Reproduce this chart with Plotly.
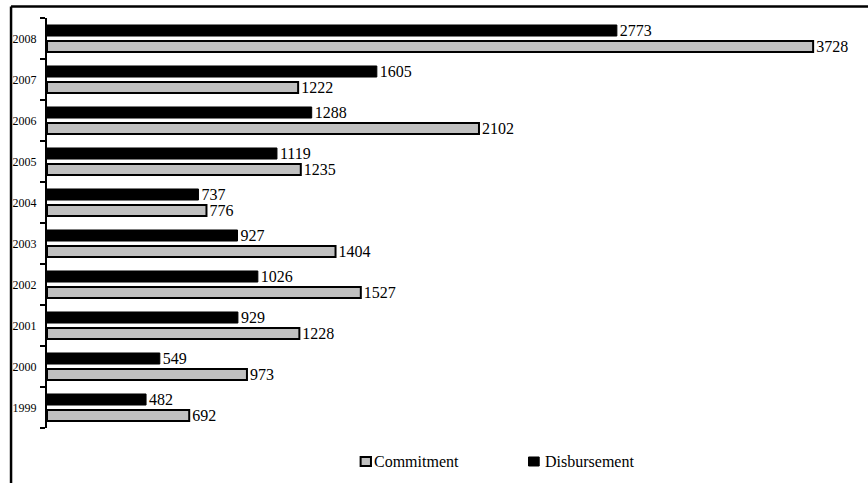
import plotly.graph_objects as go

years = ["1999", "2000", "2001", "2002", "2003", "2004", "2005", "2006", "2007", "2008"]
commitment = [692, 973, 1228, 1527, 1404, 776, 1235, 2102, 1222, 3728]
disbursement = [482, 549, 929, 1026, 927, 737, 1119, 1288, 1605, 2773]
series_names = ["Commitment", "Disbursement"]

font_family = "Liberation Serif, Times New Roman, serif"
gray = "#C0C0C0"

fig = go.Figure()
fig.add_trace(go.Bar(
    y=years, x=commitment, orientation="h", name=series_names[0],
    marker=dict(color=gray, line=dict(color="black", width=2)),
    text=[str(v) for v in commitment], textposition="outside",
    textfont=dict(family=font_family, size=16, color="black"),
    constraintext="none", cliponaxis=False, showlegend=False,
))
fig.add_trace(go.Bar(
    y=years, x=disbursement, orientation="h", name=series_names[1],
    marker=dict(color="black", line=dict(color="black", width=1)),
    text=[str(v) for v in disbursement], textposition="outside",
    textfont=dict(family=font_family, size=16, color="black"),
    constraintext="none", cliponaxis=False, showlegend=False,
))

# plot area: x 47..868, y 18..428 (pixels); paper coords derived for frame/legend
leg_y0, leg_y1, leg_yc = -0.0707, -0.0927, -0.0829
fx = -0.0438
fy = 1.0280
shapes = [
    dict(type="line", xref="paper", yref="paper", x0=fx, x1=1.2, y0=fy, y1=fy,
         line=dict(color="black", width=2.5), layer="above"),
    dict(type="line", xref="paper", yref="paper", x0=fx, x1=fx, y0=fy, y1=-0.3,
         line=dict(color="black", width=2.5), layer="above"),
    dict(type="rect", xref="paper", yref="paper", x0=0.3820, x1=0.3946, y0=leg_y0, y1=leg_y1,
         fillcolor=gray, line=dict(color="black", width=2)),
    dict(type="rect", xref="paper", yref="paper", x0=0.5865, x1=0.5995, y0=leg_y0, y1=leg_y1,
         fillcolor="black", line=dict(color="black", width=1)),
]
annotations = [
    dict(xref="paper", yref="paper", x=0.3960, y=leg_yc, xanchor="left", yanchor="middle",
         text=series_names[0], showarrow=False,
         font=dict(family=font_family, size=16, color="black")),
    dict(xref="paper", yref="paper", x=0.6040, y=leg_yc, xanchor="left", yanchor="middle",
         text=series_names[1], showarrow=False,
         font=dict(family=font_family, size=16, color="black")),
]

fig.update_layout(
    width=868, height=483,
    margin=dict(l=47, r=0, t=18, b=55),
    paper_bgcolor="white", plot_bgcolor="white",
    barmode="group", bargap=0.22, bargroupgap=0.31,
    font=dict(family=font_family, color="black"),
    showlegend=False,
    xaxis=dict(visible=False, range=[0, 3995]),
    yaxis=dict(
        type="category", showline=True, linecolor="black", linewidth=2,
        ticks="outside", ticklen=5, tickwidth=2, tickcolor="black",
        tickson="boundaries", showgrid=False, automargin=False,
        ticklabelstandoff=6,
        tickfont=dict(family=font_family, size=12, color="black"),
    ),
    shapes=shapes,
    annotations=annotations,
)

fig.write_html(
    "out.html",
    config={"displayModeBar": False},
    post_script="document.body.style.margin='0';document.body.style.overflow='hidden';",
)
